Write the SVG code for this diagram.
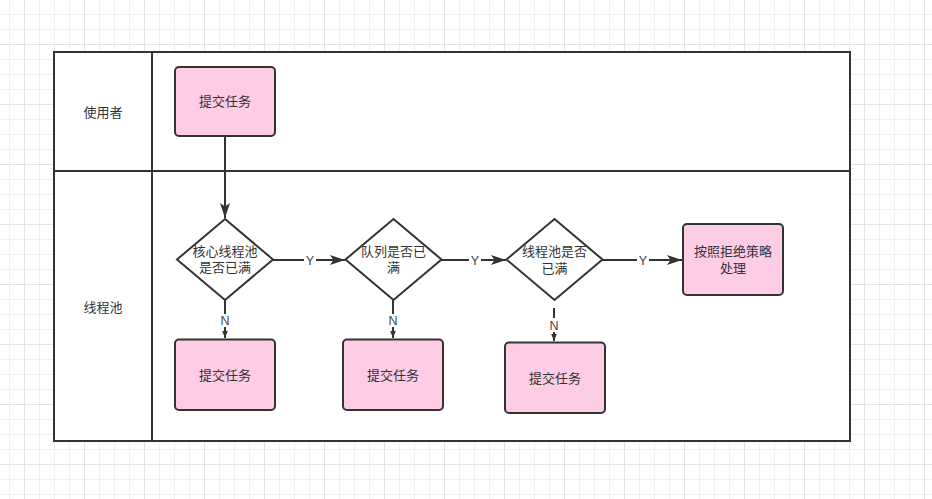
<svg xmlns="http://www.w3.org/2000/svg" width="932" height="499" viewBox="0 0 932 499">
<defs>
<pattern id="grid" x="24" y="44" width="60" height="60" patternUnits="userSpaceOnUse">
<path d="M15.5,0V60M30.5,0V60M45.5,0V60M0,15.5H60M0,30.5H60M0,45.5H60" stroke="#f0f0f0" stroke-width="1" fill="none"/>
<path d="M0.5,0V60M0,0.5H60" stroke="#e3e3e3" stroke-width="1" fill="none"/>
</pattern>
<marker id="big" markerUnits="userSpaceOnUse" markerWidth="16" markerHeight="12" viewBox="0 0 16 12" refX="15" refY="6" orient="auto">
<path d="M0,1 L15,6 L0,11 L3.5,6 Z" fill="#333"/>
</marker>
<marker id="small" markerUnits="userSpaceOnUse" markerWidth="8" markerHeight="8" viewBox="0 0 8 8" refX="7" refY="4" orient="auto">
<path d="M0,1.2 L7,4 L0,6.8 Z" fill="#333"/>
</marker>
</defs>
<style>
.box{fill:#ffcce6;stroke:#333;stroke-width:2}
.dia{fill:#fff;stroke:#333;stroke-width:2}
.lane{fill:#fff;stroke:#333;stroke-width:2}
.t{font-family:"Noto Sans CJK SC","Microsoft YaHei",sans-serif;font-size:13px;fill:#333;text-anchor:middle}
.lbl{font-family:"Liberation Sans","Noto Sans",sans-serif;font-size:12.5px;fill:#444;text-anchor:middle}
.e{stroke:#333;stroke-width:2;fill:none}
</style>
<rect width="932" height="499" fill="#fff"/>
<rect width="932" height="499" fill="url(#grid)"/>

<g id="pool">
<rect class="lane" x="54" y="52" width="796" height="389"/>
<line class="e" x1="54" y1="171" x2="850" y2="171"/>
<line class="e" x1="152" y1="52" x2="152" y2="441"/>
<text class="t" x="103" y="117">使用者</text>
<text class="t" x="103" y="312">线程池</text>
</g>

<g id="connectors">
<line class="e" x1="225" y1="137" x2="225" y2="218" marker-end="url(#big)"/>
<line class="e" x1="273" y1="260" x2="345" y2="260" marker-end="url(#big)"/>
<line class="e" x1="441" y1="260" x2="506" y2="260" marker-end="url(#big)"/>
<line class="e" x1="602" y1="260" x2="682" y2="260" marker-end="url(#big)"/>
<line class="e" x1="225" y1="300" x2="225" y2="338" marker-end="url(#small)"/>
<line class="e" x1="393" y1="300" x2="393" y2="338" marker-end="url(#small)"/>
<line class="e" x1="554" y1="308" x2="554" y2="341" marker-end="url(#small)"/>
<rect x="304" y="253" width="12" height="14" fill="#fff"/>
<text class="lbl" x="310" y="265">Y</text>
<rect x="469" y="253" width="12" height="14" fill="#fff"/>
<text class="lbl" x="475" y="265">Y</text>
<rect x="637" y="253" width="12" height="14" fill="#fff"/>
<text class="lbl" x="643" y="265">Y</text>
<rect x="219" y="314" width="12" height="13" fill="#fff"/>
<text class="lbl" x="225" y="325">N</text>
<rect x="387" y="314" width="12" height="13" fill="#fff"/>
<text class="lbl" x="393" y="325">N</text>
<rect x="548" y="318" width="12" height="14" fill="#fff"/>
<text class="lbl" x="554" y="330">N</text>
</g>

<g id="submit-top">
<rect class="box" x="175" y="67" width="100" height="69" rx="4"/>
<text class="t" x="225" y="106">提交任务</text>
</g>
<g id="core-full">
<polygon class="dia" points="225,219 273,259.5 225,300 177,259.5"/>
<text class="t" x="225" y="256">核心线程池<tspan x="225" dy="16">是否已满</tspan></text>
</g>
<g id="queue-full">
<polygon class="dia" points="393.5,219 441.5,259.5 393.5,300 345.5,259.5"/>
<text class="t" x="393.5" y="256">队列是否已<tspan x="393.5" dy="16">满</tspan></text>
</g>
<g id="pool-full">
<polygon class="dia" points="554.5,219 602.5,259.5 554.5,300 506.5,259.5"/>
<text class="t" x="554.5" y="256">线程池是否<tspan x="554.5" dy="16.5">已满</tspan></text>
</g>
<g id="reject">
<rect class="box" x="683" y="224" width="100" height="71" rx="4"/>
<text class="t" x="733" y="256">按照拒绝策略<tspan x="733" dy="16.5">处理</tspan></text>
</g>
<g id="submit-1">
<rect class="box" x="175" y="339.5" width="100" height="70.5" rx="4"/>
<text class="t" x="225" y="379.5">提交任务</text>
</g>
<g id="submit-2">
<rect class="box" x="343" y="339.5" width="100" height="70.5" rx="4"/>
<text class="t" x="393" y="379.5">提交任务</text>
</g>
<g id="submit-3">
<rect class="box" x="505" y="342.5" width="100" height="70.5" rx="4"/>
<text class="t" x="555" y="382.5">提交任务</text>
</g>
</svg>
